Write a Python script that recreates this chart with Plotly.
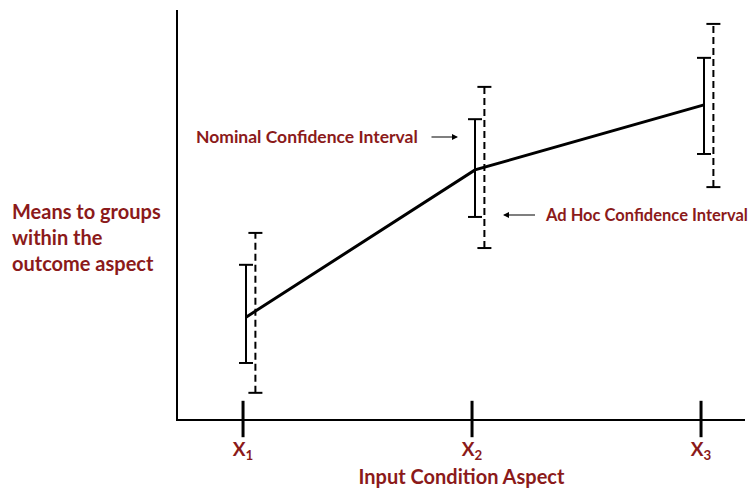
import plotly.graph_objects as go

# ---- data ----
groups = [1, 2, 3]
tick_labels = ["X<sub>1</sub>", "X<sub>2</sub>", "X<sub>3</sub>"]
means = [2.49, 6.09, 7.68]
nominal_low = [1.37, 4.94, 6.48]
nominal_high = [3.77, 7.33, 8.83]
adhoc_low = [0.64, 4.18, 5.67]
adhoc_high = [4.55, 8.12, 9.66]

RED = "#8B1A1A"
FONT = "Lato"
NOM_OFF = 0.013
ADH_OFF = 0.054


def interval_xy(xs, lo, hi, off):
    x, y = [], []
    for g, a, b in zip(xs, lo, hi):
        x += [g + off, g + off, None]
        y += [a, b, None]
    return x, y


fig = go.Figure()

# ad hoc (dashed) intervals
ax_, ay_ = interval_xy(groups, adhoc_low, adhoc_high, ADH_OFF)
fig.add_trace(go.Scatter(
    x=ax_, y=ay_, mode="lines+markers",
    line=dict(color="black", width=2, dash="7px,4px"),
    marker=dict(symbol="line-ew", size=10, line=dict(color="black", width=2)),
    hoverinfo="skip", showlegend=False,
))

# nominal (solid) intervals
nx_, ny_ = interval_xy(groups, nominal_low, nominal_high, NOM_OFF)
fig.add_trace(go.Scatter(
    x=nx_, y=ny_, mode="lines+markers",
    line=dict(color="black", width=2),
    marker=dict(symbol="line-ew", size=10, line=dict(color="black", width=2)),
    hoverinfo="skip", showlegend=False,
))

# means line
fig.add_trace(go.Scatter(
    x=[g + NOM_OFF for g in groups], y=means, mode="lines",
    line=dict(color="black", width=3),
    hoverinfo="skip", showlegend=False,
))

# crossing tick marks on the x axis
fig.add_trace(go.Scatter(
    x=groups, y=[0] * len(groups), mode="markers",
    marker=dict(symbol="line-ns", size=26, line=dict(color="black", width=3)),
    cliponaxis=False, hoverinfo="skip", showlegend=False,
))

fig.update_layout(
    width=748, height=482,
    margin=dict(l=170, r=11, t=2, b=71),
    plot_bgcolor="white", paper_bgcolor="white",
    font=dict(family=FONT, color=RED),
    showlegend=False,
    xaxis=dict(
        range=[0.716, 3.192], showgrid=False, zeroline=False,
        showline=True, linecolor="black", linewidth=2,
        tickvals=groups, ticktext=tick_labels, ticks="",
        ticklabelstandoff=12,
        tickfont=dict(family=FONT, size=19, color=RED, weight="bold"),
        title=dict(text="Input Condition Aspect", standoff=8,
                   font=dict(family=FONT, size=20, color=RED, weight="bold")),
        automargin=False,
    ),
    yaxis=dict(
        range=[0, 10], showgrid=False, zeroline=False,
        showline=True, linecolor="black", linewidth=2,
        showticklabels=False, ticks="",
    ),
    annotations=[
        dict(text="Means to groups<br>within the<br>outcome aspect",
             xref="paper", yref="paper", x=-0.296, y=0.445,
             xanchor="left", yanchor="middle", align="left", showarrow=False,
             font=dict(family=FONT, size=20, color=RED, weight="bold")),
        dict(text="Nominal Confidence Interval",
             xref="paper", yref="paper", x=0.4938, y=0.6895,
             ax=-151, ay=0, showarrow=True, arrowhead=2, arrowsize=1,
             arrowwidth=1.2, arrowcolor="black", startstandoff=12,
             font=dict(family=FONT, size=17.5, color=RED, weight="bold")),
        dict(text="Ad Hoc Confidence Interval",
             xref="paper", yref="paper", x=0.5732, y=0.4988,
             ax=143, ay=0, showarrow=True, arrowhead=2, arrowsize=1,
             arrowwidth=1.2, arrowcolor="black", startstandoff=8,
             font=dict(family=FONT, size=16.5, color=RED, weight="bold")),
    ],
)

fig.write_html("out.html")
